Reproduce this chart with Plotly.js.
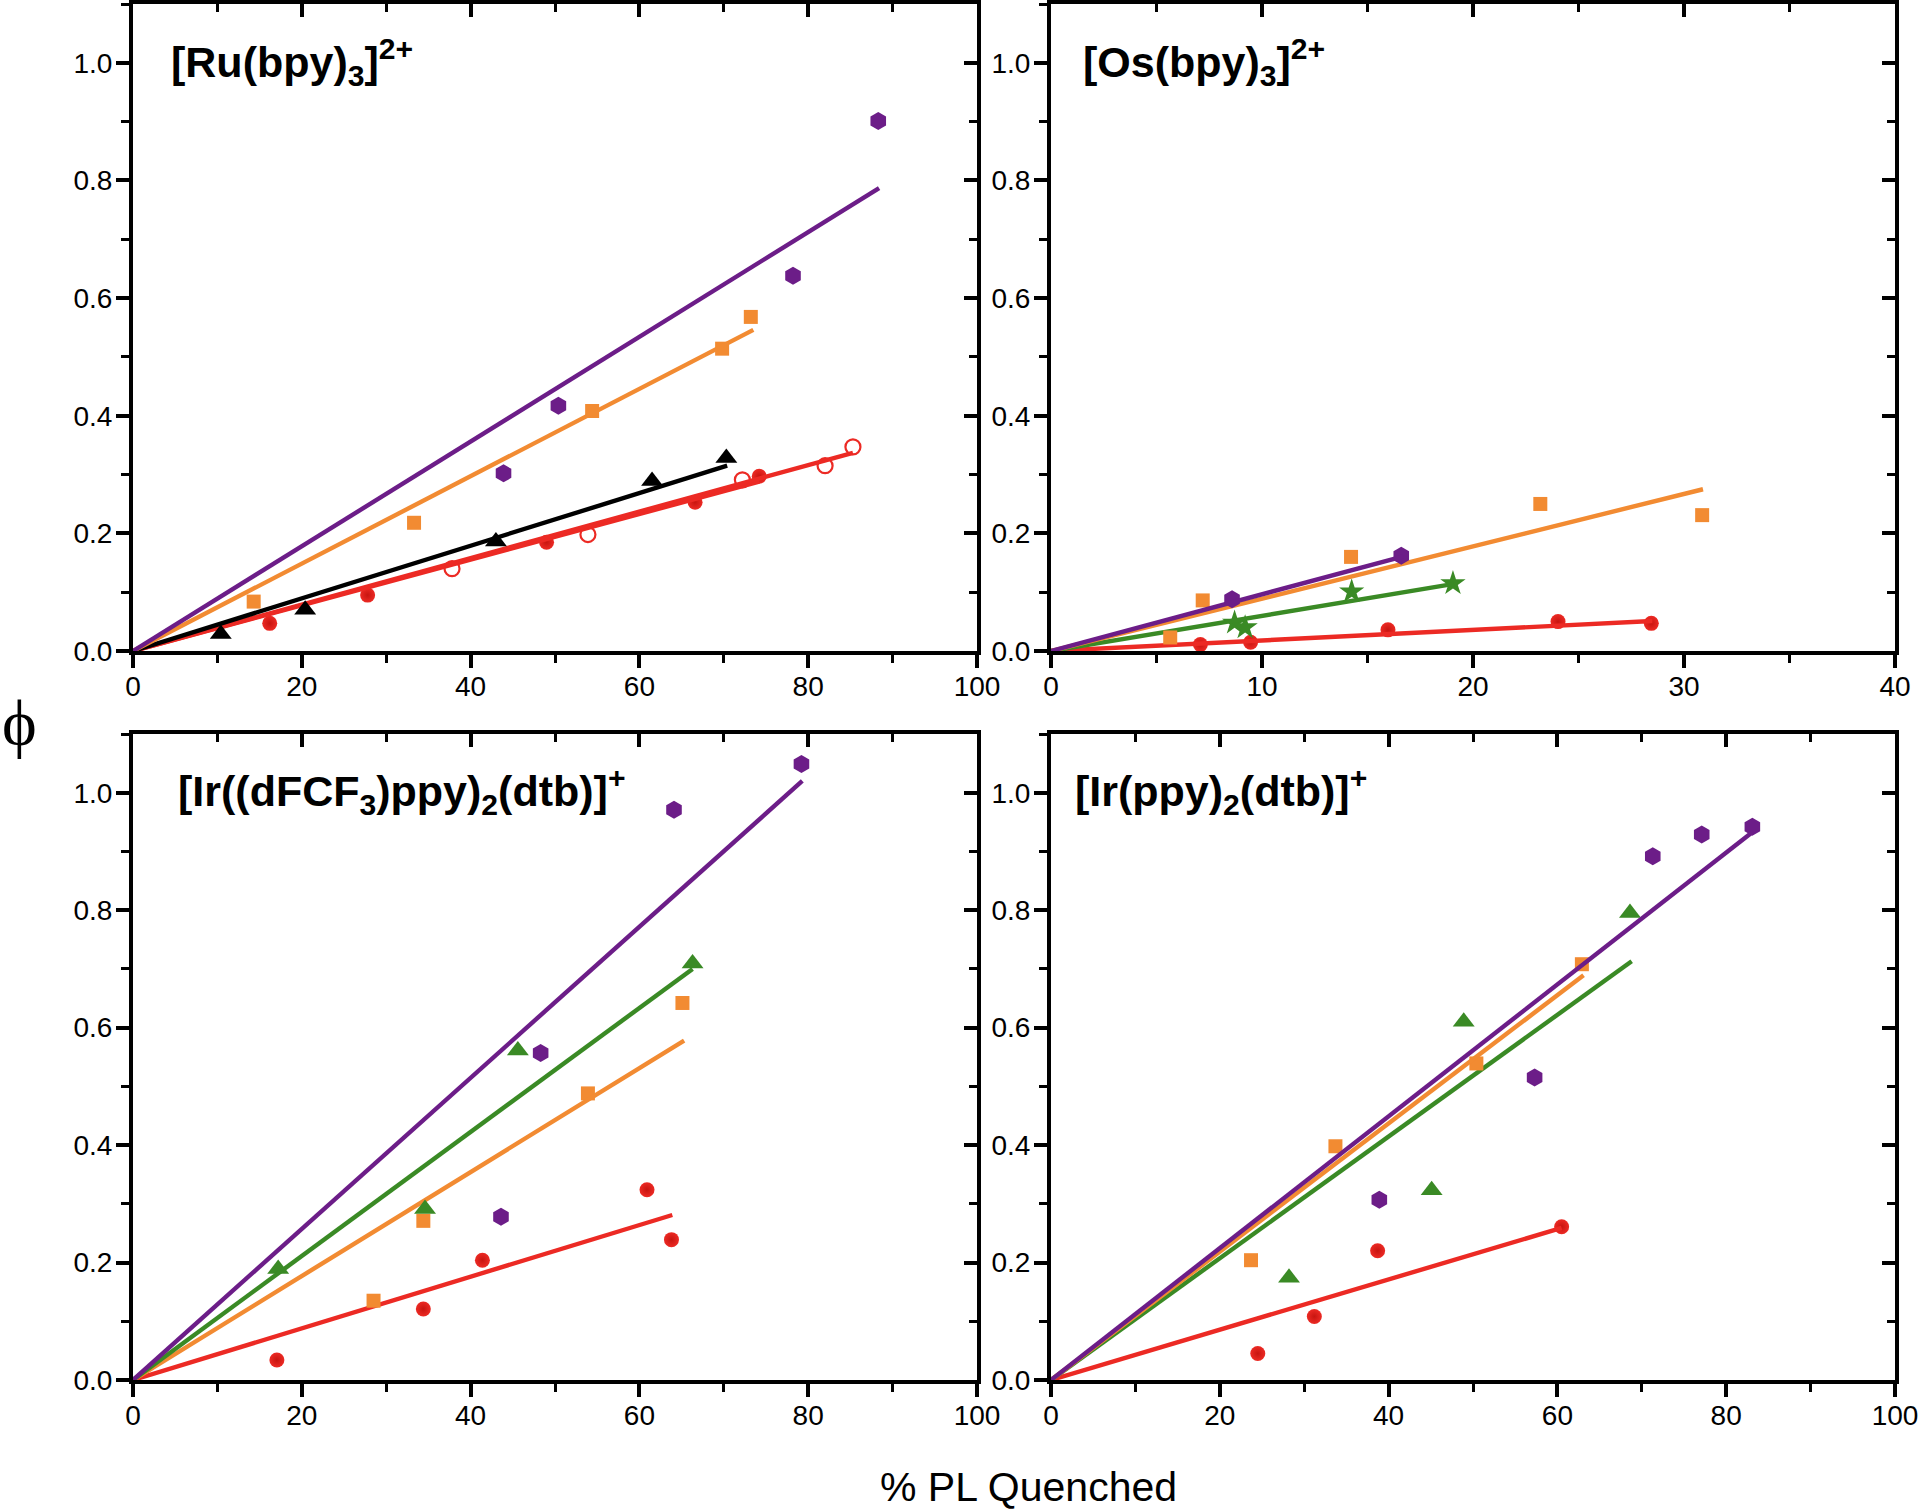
<!DOCTYPE html>
<html>
<head>
<meta charset="utf-8">
<script src="https://cdn.plot.ly/plotly-3.0.1.min.js"></script>
<style>html,body{margin:0;padding:0;background:#fff;}#chart{width:1920px;height:1509px;}</style>
</head>
<body>
<div id="chart"></div>
<script>
// ---------- Panel titles and axis labels ----------
const panelTitles = [
  "<b>[Ru(bpy)<sub>3</sub>]<sup>2+</sup></b>",
  "<b>[Os(bpy)<sub>3</sub>]<sup>2+</sup></b>",
  "<b>[Ir((dFCF<sub>3</sub>)ppy)<sub>2</sub>(dtb)]<sup>+</sup></b>",
  "<b>[Ir(ppy)<sub>2</sub>(dtb)]<sup>+</sup></b>"
];
const xAxisTitle = "% PL Quenched";
const yAxisTitle = "ϕ";
const xRanges = [[0, 100], [0, 40], [0, 100], [0, 100]];
const xMajorTicks = [20, 10, 20, 20];
const xMinorTicks = [10, 5, 10, 10];
const yRange = [0, 1.1];

// ---------- Panel 1: [Ru(bpy)3]2+ ----------
const ruPurpleX = [43.9, 50.4, 78.2, 88.3];
const ruPurpleY = [0.302, 0.417, 0.638, 0.901];
const ruPurpleFitX = [0, 88.4];
const ruPurpleFitY = [0, 0.787];
const ruOrangeX = [14.3, 33.3, 54.4, 69.8, 73.2];
const ruOrangeY = [0.084, 0.218, 0.408, 0.514, 0.568];
const ruOrangeFitX = [0, 73.5];
const ruOrangeFitY = [0, 0.546];
const ruBlackX = [10.4, 20.4, 43.0, 61.5, 70.3];
const ruBlackY = [0.029, 0.070, 0.186, 0.289, 0.328];
const ruBlackFitX = [0, 70.4];
const ruBlackFitY = [0, 0.315];
const ruRedX = [16.2, 27.8, 49.0, 66.6, 74.2];
const ruRedY = [0.047, 0.095, 0.185, 0.253, 0.297];
const ruRedFitX = [0, 74.2];
const ruRedFitY = [0, 0.288];
const ruRedOpenX = [37.8, 53.9, 72.2, 82.0, 85.3];
const ruRedOpenY = [0.140, 0.198, 0.291, 0.315, 0.347];
const ruRedOpenFitX = [0, 85.3];
const ruRedOpenFitY = [0, 0.337];

// ---------- Panel 2: [Os(bpy)3]2+ ----------
const osOrangeX = [5.65, 7.19, 14.22, 23.19, 30.86];
const osOrangeY = [0.023, 0.086, 0.160, 0.250, 0.231];
const osOrangeFitX = [0, 30.9];
const osOrangeFitY = [0, 0.275];
const osPurpleX = [8.58, 16.6];
const osPurpleY = [0.088, 0.162];
const osPurpleFitX = [0, 16.7];
const osPurpleFitY = [0, 0.161];
const osGreenX = [8.7, 9.2, 14.25, 19.05];
const osGreenY = [0.048, 0.040, 0.101, 0.115];
const osGreenFitX = [0, 19.1];
const osGreenFitY = [0, 0.114];
const osRedX = [7.08, 9.46, 15.97, 24.03, 28.45];
const osRedY = [0.011, 0.015, 0.036, 0.050, 0.047];
const osRedFitX = [0, 28.5];
const osRedFitY = [0, 0.051];

// ---------- Panel 3: [Ir((dFCF3)ppy)2(dtb)]+ ----------
const irfPurpleX = [43.6, 48.3, 64.1, 79.2];
const irfPurpleY = [0.278, 0.557, 0.971, 1.049];
const irfPurpleFitX = [0, 79.3];
const irfPurpleFitY = [0, 1.020];
const irfGreenX = [17.2, 34.6, 45.6, 66.3];
const irfGreenY = [0.189, 0.291, 0.561, 0.709];
const irfGreenFitX = [0, 66.3];
const irfGreenFitY = [0, 0.700];
const irfOrangeX = [28.5, 34.4, 53.9, 65.1];
const irfOrangeY = [0.135, 0.271, 0.488, 0.642];
const irfOrangeFitX = [0, 65.3];
const irfOrangeFitY = [0, 0.578];
const irfRedX = [17.05, 34.4, 41.4, 60.9, 63.8];
const irfRedY = [0.034, 0.121, 0.204, 0.324, 0.239];
const irfRedFitX = [0, 63.9];
const irfRedFitY = [0, 0.281];

// ---------- Panel 4: [Ir(ppy)2(dtb)]+ ----------
const irPurpleX = [38.9, 57.3, 71.3, 77.1, 83.1];
const irPurpleY = [0.307, 0.515, 0.892, 0.929, 0.942];
const irPurpleFitX = [0, 83.2];
const irPurpleFitY = [0, 0.934];
const irOrangeX = [23.7, 33.7, 50.4, 62.9];
const irOrangeY = [0.204, 0.398, 0.539, 0.708];
const irOrangeFitX = [0, 63.1];
const irOrangeFitY = [0, 0.689];
const irGreenX = [28.2, 45.1, 48.9, 68.6];
const irGreenY = [0.174, 0.323, 0.610, 0.795];
const irGreenFitX = [0, 68.8];
const irGreenFitY = [0, 0.713];
const irRedX = [24.5, 31.2, 38.7, 60.5];
const irRedY = [0.045, 0.108, 0.220, 0.261];
const irRedFitX = [0, 60.5];
const irRedFitY = [0, 0.259];

// ---------- Styles ----------
const C = {purple: "#6c1d88", orange: "#f28b32", red: "#ec2a24", green: "#3a8a25", black: "#000000"};
const MK = {
  hex: {symbol: "hexagon", size: 18},
  sq: {symbol: "square", size: 14},
  tri: {symbol: "triangle-up", size: 19},
  circ: {symbol: "circle", size: 15},
  open: {symbol: "circle-open", size: 15},
  star: {symbol: "star", size: 19}
};

const traces = [];
function addSeries(ax, x, y, color, mk, fitX, fitY) {
  const xa = ax === 1 ? "x" : "x" + ax;
  const ya = ax === 1 ? "y" : "y" + ax;
  const marker = {symbol: mk.symbol, size: mk.size, color: color, line: {width: 0}};
  if (mk.symbol === "circle-open") marker.line = {width: 2.2, color: color};
  if (mk.symbol === "circle") marker.gradient = {type: "radial", color: "#c81510"};
  traces.push({type: "scatter", mode: "markers", x: x, y: y, xaxis: xa, yaxis: ya,
    marker: marker, showlegend: false, hoverinfo: "skip"});
  traces.push({type: "scatter", mode: "lines", x: fitX, y: fitY, xaxis: xa, yaxis: ya,
    line: {color: color, width: 4.4}, showlegend: false, hoverinfo: "skip"});
}

addSeries(1, ruRedX, ruRedY, C.red, MK.circ, ruRedFitX, ruRedFitY);
addSeries(1, ruRedOpenX, ruRedOpenY, C.red, MK.open, ruRedOpenFitX, ruRedOpenFitY);
addSeries(1, ruBlackX, ruBlackY, C.black, MK.tri, ruBlackFitX, ruBlackFitY);
addSeries(1, ruOrangeX, ruOrangeY, C.orange, MK.sq, ruOrangeFitX, ruOrangeFitY);
addSeries(1, ruPurpleX, ruPurpleY, C.purple, MK.hex, ruPurpleFitX, ruPurpleFitY);

addSeries(2, osRedX, osRedY, C.red, MK.circ, osRedFitX, osRedFitY);
addSeries(2, osGreenX, osGreenY, C.green, MK.star, osGreenFitX, osGreenFitY);
addSeries(2, osOrangeX, osOrangeY, C.orange, MK.sq, osOrangeFitX, osOrangeFitY);
addSeries(2, osPurpleX, osPurpleY, C.purple, MK.hex, osPurpleFitX, osPurpleFitY);

addSeries(3, irfRedX, irfRedY, C.red, MK.circ, irfRedFitX, irfRedFitY);
addSeries(3, irfOrangeX, irfOrangeY, C.orange, MK.sq, irfOrangeFitX, irfOrangeFitY);
addSeries(3, irfGreenX, irfGreenY, C.green, MK.tri, irfGreenFitX, irfGreenFitY);
addSeries(3, irfPurpleX, irfPurpleY, C.purple, MK.hex, irfPurpleFitX, irfPurpleFitY);

addSeries(4, irRedX, irRedY, C.red, MK.circ, irRedFitX, irRedFitY);
addSeries(4, irGreenX, irGreenY, C.green, MK.tri, irGreenFitX, irGreenFitY);
addSeries(4, irOrangeX, irOrangeY, C.orange, MK.sq, irOrangeFitX, irOrangeFitY);
addSeries(4, irPurpleX, irPurpleY, C.purple, MK.hex, irPurpleFitX, irPurpleFitY);

// dummy traces so that mirror (inward-tick) axes are drawn
for (let i = 5; i <= 8; i++) {
  traces.push({type: "scatter", mode: "markers", x: [null], y: [null],
    xaxis: "x" + i, yaxis: "y" + i, showlegend: false, hoverinfo: "skip"});
}

// ---------- Layout ----------
const W = 1920, H = 1509;
const xDomains = [[133, 977], [1051, 1895], [133, 977], [1051, 1895]];
const yDomains = [[4, 651], [4, 651], [734, 1380], [734, 1380]];
const tickFont = {family: "Liberation Sans, Arial, sans-serif", size: 28, color: "#000"};

const layout = {
  width: W, height: H,
  margin: {l: 0, r: 0, t: 0, b: 0, pad: 0},
  paper_bgcolor: "#fff", plot_bgcolor: "rgba(0,0,0,0)",
  showlegend: false,
  annotations: []
};

for (let i = 0; i < 4; i++) {
  const n = i + 1;
  const xk = n === 1 ? "xaxis" : "xaxis" + n;
  const yk = n === 1 ? "yaxis" : "yaxis" + n;
  const xid = n === 1 ? "x" : "x" + n;
  const yid = n === 1 ? "y" : "y" + n;
  const xd = [xDomains[i][0] / W, xDomains[i][1] / W];
  const yd = [1 - yDomains[i][1] / H, 1 - yDomains[i][0] / H];
  layout[xk] = {
    domain: xd, anchor: yid, range: xRanges[i], dtick: xMajorTicks[i], tick0: 0,
    showline: true, linewidth: 4, linecolor: "#000", mirror: true,
    ticks: "outside", ticklen: 13, tickwidth: 4, tickcolor: "#000",
    minor: {ticks: "outside", dtick: xMinorTicks[i], ticklen: 8, tickwidth: 3, tickcolor: "#000"},
    showgrid: false, zeroline: false, tickfont: tickFont, ticklabelstandoff: -6,
    fixedrange: true
  };
  layout[yk] = {
    domain: yd, anchor: xid, range: yRange, dtick: 0.2, tick0: 0, tickformat: ".1f",
    showline: true, linewidth: 4, linecolor: "#000", mirror: true,
    ticks: "outside", ticklen: 13, tickwidth: 4, tickcolor: "#000",
    minor: {ticks: "outside", dtick: 0.1, ticklen: 8, tickwidth: 3, tickcolor: "#000"},
    showgrid: false, zeroline: false, tickfont: tickFont, ticklabelstandoff: -2,
    fixedrange: true
  };
  const m = i + 5;
  layout["xaxis" + m] = {
    overlaying: xid, side: "top", anchor: yid, range: xRanges[i], dtick: xMajorTicks[i], tick0: 0,
    showline: false, ticks: "inside", ticklen: 13, tickwidth: 4, tickcolor: "#000",
    minor: {ticks: "inside", dtick: xMinorTicks[i], ticklen: 8, tickwidth: 3, tickcolor: "#000"},
    showticklabels: false, showgrid: false, zeroline: false, fixedrange: true
  };
  layout["yaxis" + m] = {
    overlaying: yid, side: "right", anchor: xid, range: yRange, dtick: 0.2, tick0: 0,
    showline: false, ticks: "inside", ticklen: 13, tickwidth: 4, tickcolor: "#000",
    minor: {ticks: "inside", dtick: 0.1, ticklen: 8, tickwidth: 3, tickcolor: "#000"},
    showticklabels: false, showgrid: false, zeroline: false, fixedrange: true
  };
}

const titleLeft = [169, 1081, 176, 1073];
const titleMid = [62, 62, 791, 791];
for (let i = 0; i < 4; i++) {
  layout.annotations.push({
    text: panelTitles[i], xref: "paper", yref: "paper",
    x: titleLeft[i] / W, y: 1 - titleMid[i] / H, xanchor: "left", yanchor: "middle",
    showarrow: false,
    font: {family: "Liberation Sans, Arial, sans-serif", size: 43, color: "#000"}
  });
}
layout.annotations.push({
  text: xAxisTitle, xref: "paper", yref: "paper", x: 1028 / W, y: 1 - 1487 / H,
  xanchor: "center", yanchor: "middle", showarrow: false,
  font: {family: "Liberation Sans, Arial, sans-serif", size: 41, color: "#000"}
});
layout.annotations.push({
  text: yAxisTitle, xref: "paper", yref: "paper", x: 19 / W, y: 1 - 722 / H,
  xanchor: "center", yanchor: "middle", showarrow: false,
  font: {family: "Liberation Serif, Times New Roman, serif", size: 66, color: "#000"}
});

Plotly.newPlot("chart", traces, layout, {displayModeBar: false, staticPlot: true});
</script>
</body>
</html>
